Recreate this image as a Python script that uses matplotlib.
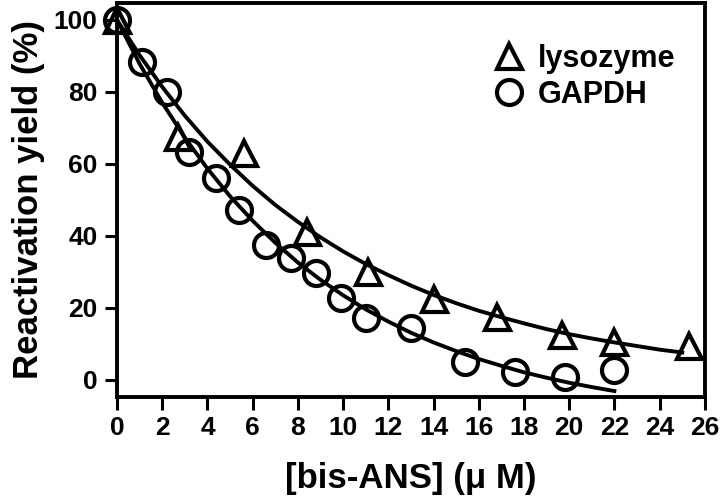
import numpy as np
import matplotlib.pyplot as plt

plt.rcParams['font.family'] = ['Liberation Sans', 'DejaVu Sans']
plt.rcParams['font.weight'] = 'bold'
plt.rcParams['axes.labelweight'] = 'bold'

# measured points
lyso_x = [0.0, 2.7, 5.6, 8.4, 11.1, 14.0, 16.8, 19.7, 22.0, 25.3]
lyso_y = [100.0, 67.5, 63.0, 41.2, 30.1, 22.5, 17.6, 12.5, 10.6, 9.3]
gapdh_x = [0.0, 1.1, 2.2, 3.2, 4.4, 5.4, 6.6, 7.7, 8.8, 9.9, 11.0, 13.0, 15.4, 17.6, 19.8, 22.0]
gapdh_y = [100.0, 88.4, 80.1, 63.4, 56.0, 47.2, 37.5, 33.8, 29.6, 22.7, 17.1, 14.4, 5.1, 2.3, 0.9, 2.8]

# fitted curves
fit_lyso_x = list(range(0, 26))
fit_lyso_y = [100, 90.2, 81.4, 73.4, 66.2, 59.8, 53.9, 48.6, 43.9, 39.6, 35.7, 32.2, 29.1,
              26.2, 23.6, 21.3, 19.2, 17.4, 15.7, 14.1, 12.7, 11.5, 10.4, 9.4, 8.4, 7.6]
fit_gapdh_x = list(range(0, 23))
fit_gapdh_y = [100, 87.8, 77.0, 67.3, 58.7, 51.0, 44.2, 38.1, 32.6, 27.8, 23.5, 19.6, 16.2,
               13.1, 10.4, 8.0, 5.8, 3.9, 2.1, 0.6, -0.8, -2.0, -3.1]

fig = plt.figure(figsize=(7.2, 5.01), dpi=100)
ax = fig.add_axes([0.1625, 0.208, 0.8165, 0.786])

ax.plot(fit_lyso_x, fit_lyso_y, 'k-', lw=2.8)
ax.plot(fit_gapdh_x, fit_gapdh_y, 'k-', lw=2.8)
ax.plot(lyso_x, lyso_y, '^', ms=18, mfc='none', mec='k', mew=3, clip_on=False, label='lysozyme')
ax.plot(gapdh_x, gapdh_y, 'o', ms=18, mfc='none', mec='k', mew=3, clip_on=False, label='GAPDH')

lg = ax.legend(loc='upper left', bbox_to_anchor=(0.597, 0.967), frameon=False,
               fontsize=22, handlelength=0.9, handletextpad=0.5, labelspacing=0.2,
               borderaxespad=0.5)

ax.set_xlim(0, 26)
ax.set_ylim(-4.7, 104.7)
ax.set_xticks(np.arange(0, 27, 2))
ax.set_yticks(np.arange(0, 101, 20))
ax.tick_params(direction='out', length=9, width=2.2, labelsize=19, pad=5)
for s in ax.spines.values():
    s.set_linewidth(2.8)

ax.set_xlabel('[bis-ANS] (\u03bc M)', fontsize=25, labelpad=16)
ax.set_ylabel('Reactivation yield (%)', fontsize=25, labelpad=6)

plt.savefig('out.png', dpi=100)
